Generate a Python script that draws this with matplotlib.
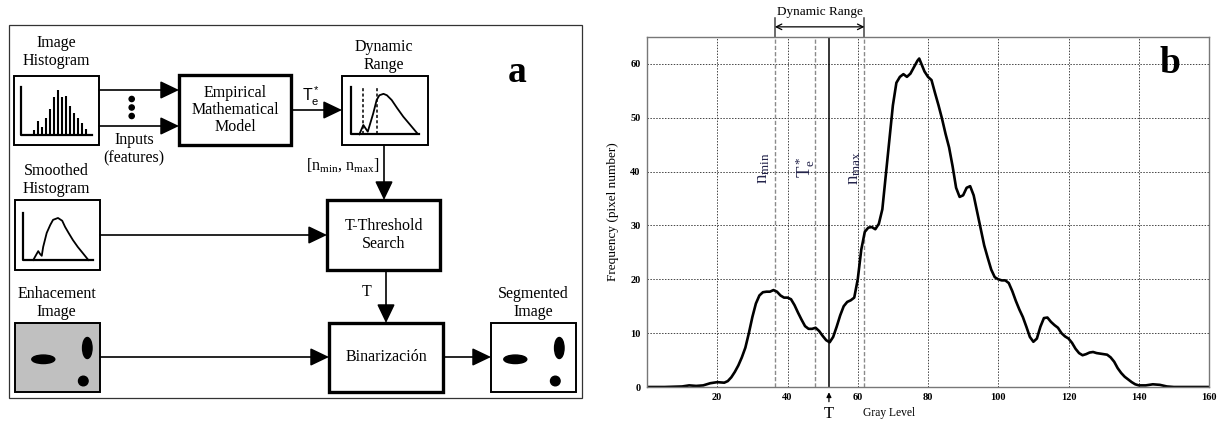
import matplotlib
matplotlib.use("Agg")
import matplotlib.pyplot as plt
from matplotlib.patches import Rectangle, Ellipse, Circle, FancyArrowPatch
import matplotlib.transforms as mtransforms

plt.rcParams['font.family'] = ['Liberation Serif', 'DejaVu Serif']
plt.rcParams['mathtext.fontset'] = 'custom'
plt.rcParams['mathtext.rm'] = 'Liberation Serif'
plt.rcParams['mathtext.it'] = 'Liberation Serif:italic'

# ---- panel b data: smoothed histogram ----
gray_level = [0, 5, 10, 12, 14, 16, 18, 20, 22, 23, 24, 25, 26, 27, 28, 29, 30,
              31, 32, 33, 34, 35, 36, 37, 38, 39, 40, 41, 42, 43, 44, 45, 46,
              47, 48, 49, 50, 51, 52, 53, 54, 55, 56, 57, 58, 59, 60, 61, 62,
              63, 64, 65, 66, 67, 68, 69, 70, 71, 72, 73, 74, 75, 76, 77, 77.5,
              78, 79, 80, 81, 82, 83, 84, 85, 86, 87, 88, 89, 90, 91, 92, 93,
              94, 95, 96, 97, 98, 99, 100, 101, 102, 103, 104, 105, 106, 107,
              108, 109, 110, 111, 112, 113, 114, 115, 116, 117, 118, 119, 120,
              121, 122, 123, 124, 125, 126, 127, 128, 129, 130, 131, 132, 133,
              134, 135, 136, 137, 138, 139, 140, 142, 144, 146, 148, 150, 160]
frequency = [0, 0, 0.1, 0.3, 0.2, 0.3, 0.7, 0.9, 0.8, 1.1, 1.8, 2.8, 4.0, 5.5,
             7.3, 10.0, 13.0, 15.5, 17.0, 17.6, 17.7, 17.7, 18.0, 17.7, 17.0,
             16.6, 16.6, 16.3, 15.2, 13.8, 12.5, 11.3, 10.8, 10.8, 11.0, 10.4,
             9.5, 8.7, 8.3, 9.3, 11.2, 13.3, 15.0, 15.8, 16.1, 16.6, 20.0, 25.5,
             28.8, 29.6, 29.7, 29.3, 30.3, 33.0, 39.5, 45.8, 52.3, 56.5, 57.6,
             58.1, 57.6, 58.2, 59.4, 60.6, 61.0, 60.2, 58.6, 57.6, 57.0, 54.6,
             52.3, 49.8, 47.0, 44.5, 41.0, 37.0, 35.3, 35.6, 37.0, 37.3, 35.6,
             32.5, 29.5, 26.3, 24.0, 21.8, 20.4, 20.0, 19.8, 19.8, 19.3, 17.8,
             16.0, 14.4, 13.0, 11.2, 9.3, 8.4, 9.0, 11.2, 12.8, 12.9, 12.1, 11.5,
             11.0, 10.0, 9.4, 9.0, 8.2, 7.1, 6.3, 5.9, 6.1, 6.4, 6.5, 6.3, 6.2,
             6.1, 6.0, 5.5, 4.7, 3.5, 2.6, 1.9, 1.4, 0.9, 0.5, 0.3, 0.3, 0.5,
             0.4, 0.1, 0, 0]
n_min, te_star, t_thr, n_max = 36.4, 47.9, 51.8, 61.9
x_ticks = [20, 40, 60, 80, 100, 120, 140, 160]
y_ticks = [0, 10, 20, 30, 40, 50, 60]

# ---- panel a icon data ----
hist_bins = list(range(14))
hist_counts = [5, 14, 8, 17, 26, 38, 45, 38, 39, 29, 22, 17, 12, 6]
smooth_x = [0.15, 0.19, 0.22, 0.245, 0.27, 0.29, 0.34, 0.39, 0.43, 0.50, 0.56,
            0.60, 0.65, 0.71, 0.78, 0.85, 0.93]
smooth_y = [0.0, 0.11, 0.19, 0.13, 0.09, 0.28, 0.58, 0.75, 0.86, 0.90, 0.84,
            0.71, 0.58, 0.43, 0.28, 0.15, 0.0]
dr_x = [0.127, 0.185, 0.25, 0.33, 0.38, 0.42, 0.48, 0.53, 0.6, 0.68, 0.77, 0.87, 0.975]
dr_y = [0.0, 0.195, 0.055, 0.44, 0.72, 0.82, 0.85, 0.82, 0.72, 0.55, 0.37, 0.2, 0.02]
dr_marks = [0.18, 0.38]

W, H = 1221, 423
fig = plt.figure(figsize=(W / 100, H / 100), dpi=100)

# full-figure pixel canvas for the diagram
cv = fig.add_axes([0, 0, 1, 1])
cv.set_xlim(0, W)
cv.set_ylim(H, 0)
cv.axis('off')


def px_axes(x0, y0, x1, y1):
    a = fig.add_axes([x0 / W, 1 - y1 / H, (x1 - x0) / W, (y1 - y0) / H])
    a.axis('off')
    return a


def box(x0, y0, x1, y1, lw=1.4, fc='white'):
    cv.add_patch(Rectangle((x0, y0), x1 - x0, y1 - y0, fill=True, fc=fc,
                           ec='black', lw=lw, zorder=2))


def arrow(x0, y0, x1, y1):
    cv.add_patch(FancyArrowPatch((x0, y0), (x1, y1),
                                 arrowstyle='-|>,head_length=1.15,head_width=0.55',
                                 mutation_scale=10, color='black', lw=1.2,
                                 shrinkA=0, shrinkB=0, zorder=3))


TS = 11.5
# outer frame
cv.add_patch(Rectangle((8.5, 25), 573, 373, fill=False, ec='#333', lw=0.9))

# boxes
box(14, 76, 99, 145)
box(179, 75, 291, 145, lw=2.4)
box(342, 76, 428, 145)
box(15, 200, 100, 270)
box(327, 200, 440, 270, lw=2.4)
box(15, 323, 100, 392, fc='#c0c0c0')
box(329, 323, 443, 392, lw=2.4)
box(491, 323, 576, 392)

# arrows
arrow(99, 90, 179, 90)
arrow(99, 126, 179, 126)
arrow(291, 110, 342, 110)
arrow(384, 145, 384, 200)
arrow(100, 235, 327, 235)
arrow(386, 270, 386, 323)
arrow(100, 357, 329, 357)
arrow(443, 357, 491, 357)

for yy in (99, 107.5, 116):
    cv.add_patch(Circle((131.7, yy), 2.6, color='black'))

# texts
cv.text(56.5, 52, 'Image\nHistogram', ha='center', va='center', fontsize=TS)
cv.text(134, 149, 'Inputs\n(features)', ha='center', va='center', fontsize=TS)
cv.text(235, 110, 'Empirical\nMathematical\nModel', ha='center', va='center',
        fontsize=TS, linespacing=1.1)
cv.text(311, 96, r'$\mathregular{T_e^*}$', ha='center', va='center',
        fontsize=TS, family='Liberation Sans')
cv.text(384, 56, 'Dynamic\nRange', ha='center', va='center', fontsize=TS)
cv.text(343, 165, r'[n$_{\mathregular{min}}$, n$_{\mathregular{max}}$]',
        ha='center', va='center', fontsize=TS)
cv.text(517, 73, 'a', ha='center', va='center', fontsize=27, fontweight='bold')
cv.text(56.5, 180, 'Smoothed\nHistogram', ha='center', va='center', fontsize=TS)
cv.text(383.5, 235, 'T-Threshold\nSearch', ha='center', va='center', fontsize=TS)
cv.text(367, 292, 'T', ha='center', va='center', fontsize=TS)
cv.text(56.5, 303, 'Enhacement\nImage', ha='center', va='center', fontsize=TS)
cv.text(386, 357, 'Binarización', ha='center', va='center', fontsize=TS)
cv.text(533.5, 303, 'Segmented\nImage', ha='center', va='center', fontsize=TS)

# blobs in the two image boxes
for dx in (0, 472):
    cv.add_patch(Ellipse((43.3 + dx, 359.3), 23, 8.5, color='black', zorder=4))
    cv.add_patch(Ellipse((88.3 + dx - 1, 348), 9.5, 21, color='black', zorder=4))
    cv.add_patch(Circle((84.3 + dx - 1, 381), 4.8, color='black', zorder=4))

# icon: image histogram
ih = px_axes(21, 87, 92, 135)
ih.vlines(hist_bins, 0, hist_counts, color='black', lw=1.5)
ih.set_xlim(-3.3, 14.5)
ih.set_ylim(0, 48)
ih.plot([-3.3, -3.3, 14.5], [48, 0, 0], color='black', lw=1.6, clip_on=False)

# icon: smoothed histogram
sh = px_axes(22.7, 213.3, 93.3, 260)
sh.set_xlim(0, 1)
sh.set_ylim(0, 1)
sh.plot([0, 0, 1], [1, 0, 0], color='black', lw=1.6, clip_on=False)
sh.plot(smooth_x, smooth_y, color='black', lw=1.3, clip_on=False)

# icon: dynamic range
dr = px_axes(350.7, 86.7, 419, 134.3)
dr.set_xlim(0, 1)
dr.set_ylim(0, 1)
dr.plot([0, 0, 1], [1, 0, 0], color='black', lw=1.6, clip_on=False)
dr.plot(dr_x, dr_y, color='black', lw=1.3, clip_on=False)
for m in dr_marks:
    dr.plot([m, m], [0, 1], color='black', lw=1.1, ls=(0, (2, 1.5)))

# ---- panel b ----
ax = fig.add_axes([647 / W, (H - 387) / H, 562 / W, 350 / H])
ax.set_xlim(0, 160)
ax.set_ylim(0, 65)
ax.set_xticks(x_ticks)
ax.set_yticks(y_ticks)
ax.tick_params(length=0, labelsize=7.5, pad=4.5)
for lab in ax.get_xticklabels() + ax.get_yticklabels():
    lab.set_fontweight('bold')
ax.grid(True, color='#444', ls=(0, (1.5, 1.5)), lw=0.7)
for s in ax.spines.values():
    s.set_color('#777')
    s.set_linewidth(1.0)

for xv in (n_min, te_star, n_max):
    ax.axvline(xv, color='#8a8a8a', ls=(0, (3, 1.5)), lw=1.0)
ax.axvline(t_thr, color='black', lw=1.1)
ax.plot(gray_level, frequency, color='black', lw=1.9, solid_joinstyle='round')

lab_col = '#23234a'
ax.text(n_min - 3.2, 40.6, r'$\mathregular{n_{min}}$', rotation=90, ha='center',
        va='center', fontsize=13.5, color=lab_col)
ax.text(te_star - 2.9, 40.8, r'$\mathregular{T_e^*}$', rotation=90, ha='center',
        va='center', fontsize=13.5, color=lab_col)
ax.text(n_max - 2.9, 40.6, r'$\mathregular{n_{max}}$', rotation=90, ha='center',
        va='center', fontsize=13.5, color=lab_col)

trans = mtransforms.blended_transform_factory(ax.transData, ax.transAxes)
for xv in (n_min, n_max):
    ax.plot([xv, xv], [1.0, 1.054], transform=trans, color='#444', lw=1.1,
            clip_on=False)
ax.annotate('', xy=(n_max, 1.029), xytext=(n_min, 1.029), xycoords=trans,
            textcoords=trans, arrowprops=dict(arrowstyle='<->', color='black',
                                              lw=0.9, shrinkA=0, shrinkB=0))
ax.text((n_min + n_max) / 2, 1.072, 'Dynamic Range', transform=trans,
        ha='center', va='center', fontsize=9.5)
ax.annotate('', xy=(t_thr, -0.015), xytext=(t_thr, -0.042), xycoords=trans,
            textcoords=trans, arrowprops=dict(arrowstyle='-|>', color='black',
                                              lw=0.9, shrinkA=0, shrinkB=0,
                                              mutation_scale=7))
ax.text(t_thr, -0.077, 'T', transform=trans, ha='center', va='center', fontsize=12)
ax.text(69, -0.074, 'Gray Level', transform=trans, ha='center', va='center',
        fontsize=8.3)
ax.set_ylabel('Frequency (pixel number)', fontsize=9.5, labelpad=8)
ax.text(149, 60, 'b', ha='center', va='center', fontsize=27, fontweight='bold')

fig.savefig('out.png', dpi=100)
